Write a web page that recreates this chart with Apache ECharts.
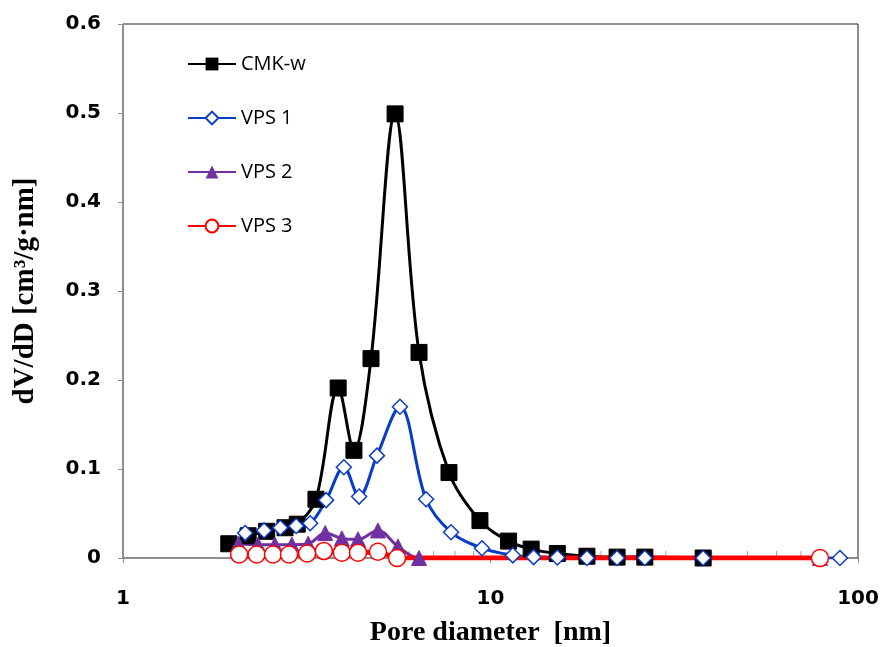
<!DOCTYPE html>
<html>
<head>
<meta charset="utf-8">
<script src="https://cdn.jsdelivr.net/npm/echarts@6/dist/echarts.min.js"></script>
<style>html,body{margin:0;padding:0;background:#fff}#c{width:881px;height:647px}</style>
</head>
<body>
<div id="c"></div>
<script>
// Pore diameter [nm] and dV/dD values
var cmkD = [1.94, 2.19, 2.46, 2.76, 2.98, 3.35, 3.85, 4.25, 4.73, 5.50, 6.39, 7.71, 9.36, 11.2, 12.9, 15.2, 18.3, 22.1, 26.3, 37.9];
var cmkV = [0.016, 0.025, 0.030, 0.034, 0.038, 0.066, 0.191, 0.121, 0.224, 0.499, 0.231, 0.096, 0.042, 0.019, 0.010, 0.005, 0.002, 0.001, 0.001, 0.000];

var vps1D = [2.15, 2.42, 2.68, 2.96, 3.23, 3.57, 3.99, 4.39, 4.91, 5.67, 6.68, 7.81, 9.48, 11.5, 13.1, 15.2, 18.3, 22.1, 26.3, 37.9, 89.3];
var vps1V = [0.028, 0.031, 0.034, 0.036, 0.039, 0.065, 0.102, 0.069, 0.115, 0.170, 0.066, 0.029, 0.011, 0.003, 0.001, 0.0005, 0, 0, 0, 0, 0];

var vps2D = [2.06, 2.33, 2.59, 2.88, 3.19, 3.55, 3.94, 4.36, 4.94, 5.60, 6.39, 78.8];
var vps2V = [0.016, 0.015, 0.015, 0.015, 0.016, 0.028, 0.022, 0.021, 0.031, 0.013, 0.000, 0];

var vps3D = [2.07, 2.31, 2.56, 2.83, 3.17, 3.52, 3.94, 4.36, 4.94, 5.57, 78.8];
var vps3V = [0.004, 0.004, 0.004, 0.004, 0.005, 0.008, 0.006, 0.006, 0.007, 0.000, 0];

var seriesNames = ['CMK-w', 'VPS 1', 'VPS 2', 'VPS 3'];
var xTicks = [1, 10, 100];
var minorTicks = [2, 3, 4, 5, 6, 7, 8, 9, 20, 30, 40, 50, 60, 70, 80, 90];

function pairs(xs, ys) { return xs.map(function (x, i) { return [x, ys[i]]; }); }

var chart = echarts.init(document.getElementById('c'), null, {renderer: 'canvas'});
var axisGray = '#8c8c8c';
var labelFont = {fontFamily: 'DejaVu Sans', fontWeight: 'bold', fontSize: 20, color: '#000'};

chart.setOption({
  animation: false,
  backgroundColor: '#fff',
  grid: {left: 123, right: 23, top: 24, bottom: 89, show: true, borderColor: '#222', borderWidth: 1,
         containLabel: false, outerBoundsMode: 'none'},
  legend: {
    data: seriesNames,
    orient: 'vertical',
    left: 182, top: 49,
    itemWidth: 48, itemHeight: 16, itemGap: 34,
    textStyle: {fontFamily: 'Open Sans', fontSize: 20, color: '#000'}
  },
  xAxis: {
    type: 'log', logBase: 10, min: 1, max: 100,
    name: 'Pore diameter  [nm]', nameLocation: 'middle', nameGap: 61,
    nameTextStyle: {fontFamily: 'Liberation Serif', fontWeight: 'bold', fontSize: 28, color: '#000'},
    axisLine: {lineStyle: {color: axisGray, width: 1}},
    axisTick: {show: true, length: 5, lineStyle: {color: axisGray}},
    axisLabel: Object.assign({margin: 31, formatter: function (v) { return xTicks.indexOf(Math.round(v)) >= 0 ? String(Math.round(v)) : ''; }}, labelFont),
    splitLine: {show: false}
  },
  yAxis: {
    type: 'value', min: 0, max: 0.6, interval: 0.1,
    name: 'dV/dD [cm\u00b3/g\u00b7nm]', nameLocation: 'middle', nameGap: 83, nameRotate: 90,
    nameTextStyle: {fontFamily: 'Liberation Serif', fontWeight: 'bold', fontSize: 29, color: '#000'},
    axisLine: {show: true, lineStyle: {color: axisGray, width: 1}},
    axisTick: {show: true, length: 5, lineStyle: {color: axisGray}},
    axisLabel: Object.assign({margin: 22, formatter: function (v) { return v === 0 ? '0' : v.toFixed(1); }}, labelFont),
    splitLine: {show: false}
  },
  series: [
    {
      name: 'minorTicks', type: 'scatter', silent: true, z: 1, clip: false,
      data: minorTicks.map(function (v) { return [v, 0]; }),
      symbol: 'rect', symbolSize: [1, 7], symbolOffset: [0, -3.5],
      itemStyle: {color: axisGray},
      tooltip: {show: false}
    },
    {
      name: 'CMK-w', type: 'line', smooth: 0.35, data: pairs(cmkD, cmkV), z: 2,
      symbol: 'rect', symbolSize: 16,
      lineStyle: {color: '#000', width: 3},
      itemStyle: {color: '#000', borderColor: '#000'}
    },
    {
      name: 'VPS 1', type: 'line', smooth: 0.35, data: pairs(vps1D, vps1V), z: 2,
      symbol: 'diamond', symbolSize: 15,
      lineStyle: {color: '#0a3cc8', width: 3},
      itemStyle: {color: '#fff', borderColor: '#0a3cc8', borderWidth: 1.5}
    },
    {
      name: 'VPS 2', type: 'line', smooth: 0.35, data: pairs(vps2D, vps2V), z: 2,
      symbol: 'triangle', symbolSize: 15,
      lineStyle: {color: '#7030a0', width: 3},
      itemStyle: {color: '#7030a0', borderColor: '#7030a0'}
    },
    {
      name: 'VPS 3', type: 'line', smooth: 0.35, data: pairs(vps3D, vps3V), z: 2,
      symbol: 'circle', symbolSize: 17,
      lineStyle: {color: '#ff0000', width: 5},
      itemStyle: {color: '#fff', borderColor: '#ff0000', borderWidth: 1.5}
    }
  ]
});
</script>
</body>
</html>
